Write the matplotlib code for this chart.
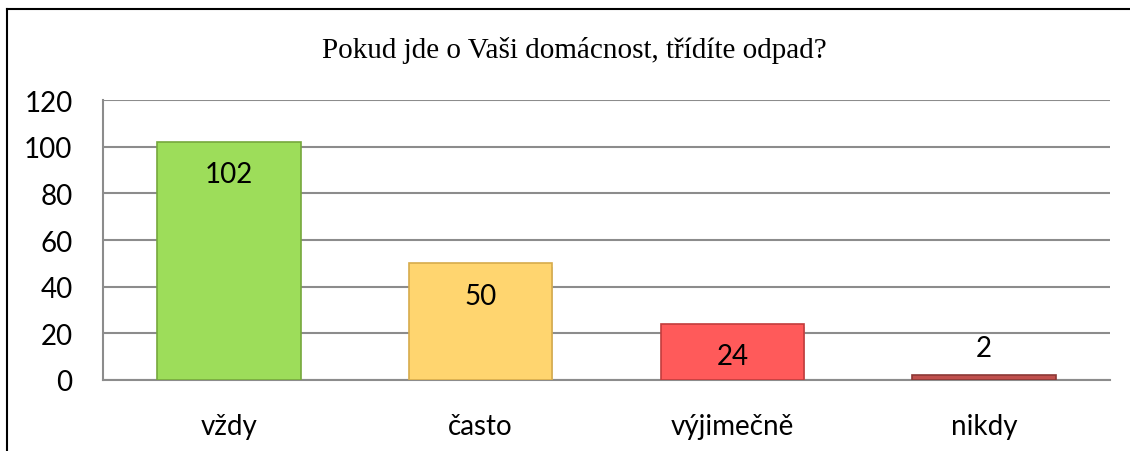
import matplotlib.pyplot as plt
import matplotlib.patheffects as pe
from matplotlib.lines import Line2D

categories = ['vždy', 'často', 'výjimečně', 'nikdy']
values = [102, 50, 24, 2]
colors = ['#9ddd5a', '#ffd56f', '#ff5a5a', '#c0504d']
edges = ['#76a83c', '#d7ac4c', '#c23c3c', '#8c3836']
yticks = [0, 20, 40, 60, 80, 100, 120]
title = 'Pokud jde o Vaši domácnost, třídíte odpad?'

plt.rcParams['font.family'] = ['Lato', 'DejaVu Sans']

fig = plt.figure(figsize=(11.3, 4.52), dpi=100)
ax = fig.add_axes([103 / 1130, 71 / 452, 1007 / 1130, 280 / 452])

x = range(len(categories))
bars = ax.bar(x, values, width=0.57, color=colors, edgecolor=edges, linewidth=1.2, zorder=3)
for b in bars:
    b.set_path_effects([pe.SimplePatchShadow(offset=(0.5, -2.5), shadow_rgbFace='#aaaaaa', alpha=0.5),
                        pe.Normal()])

for i, v in enumerate(values):
    if v > 10:
        ax.annotate(str(v), (i, v), xytext=(0, -14), textcoords='offset points',
                    ha='center', va='top', fontsize=20, zorder=4)
    else:
        ax.annotate(str(v), (i, v), xytext=(0, 10), textcoords='offset points',
                    ha='center', va='bottom', fontsize=20, zorder=4)

ax.set_xlim(-0.5, len(categories) - 0.5)
ax.set_ylim(0, 120)
ax.set_yticks(yticks)
ax.set_xticks(list(x))
ax.set_xticklabels(categories)
ax.tick_params(axis='both', length=0, labelsize=20)
ax.tick_params(axis='y', pad=22)
ax.tick_params(axis='x', pad=24)
ax.grid(axis='y', color='#8c8c8c', linewidth=1.5, zorder=0)
ax.set_axisbelow(True)
for s in ['top', 'right']:
    ax.spines[s].set_visible(False)
for s in ['left', 'bottom']:
    ax.spines[s].set_color('#8c8c8c')
    ax.spines[s].set_linewidth(1.5)

fig.text(574 / 1130, 1 - 50 / 452, title, ha='center', va='center',
         fontsize=21, family='Liberation Serif')

# page border (top and left only)
fig.add_artist(Line2D([7 / 1130, 1], [1 - 10 / 452, 1 - 10 / 452], color='black', linewidth=1.5))
fig.add_artist(Line2D([7 / 1130, 7 / 1130], [0, 1 - 10 / 452], color='black', linewidth=1.5))

fig.savefig('out.png', dpi=100)
